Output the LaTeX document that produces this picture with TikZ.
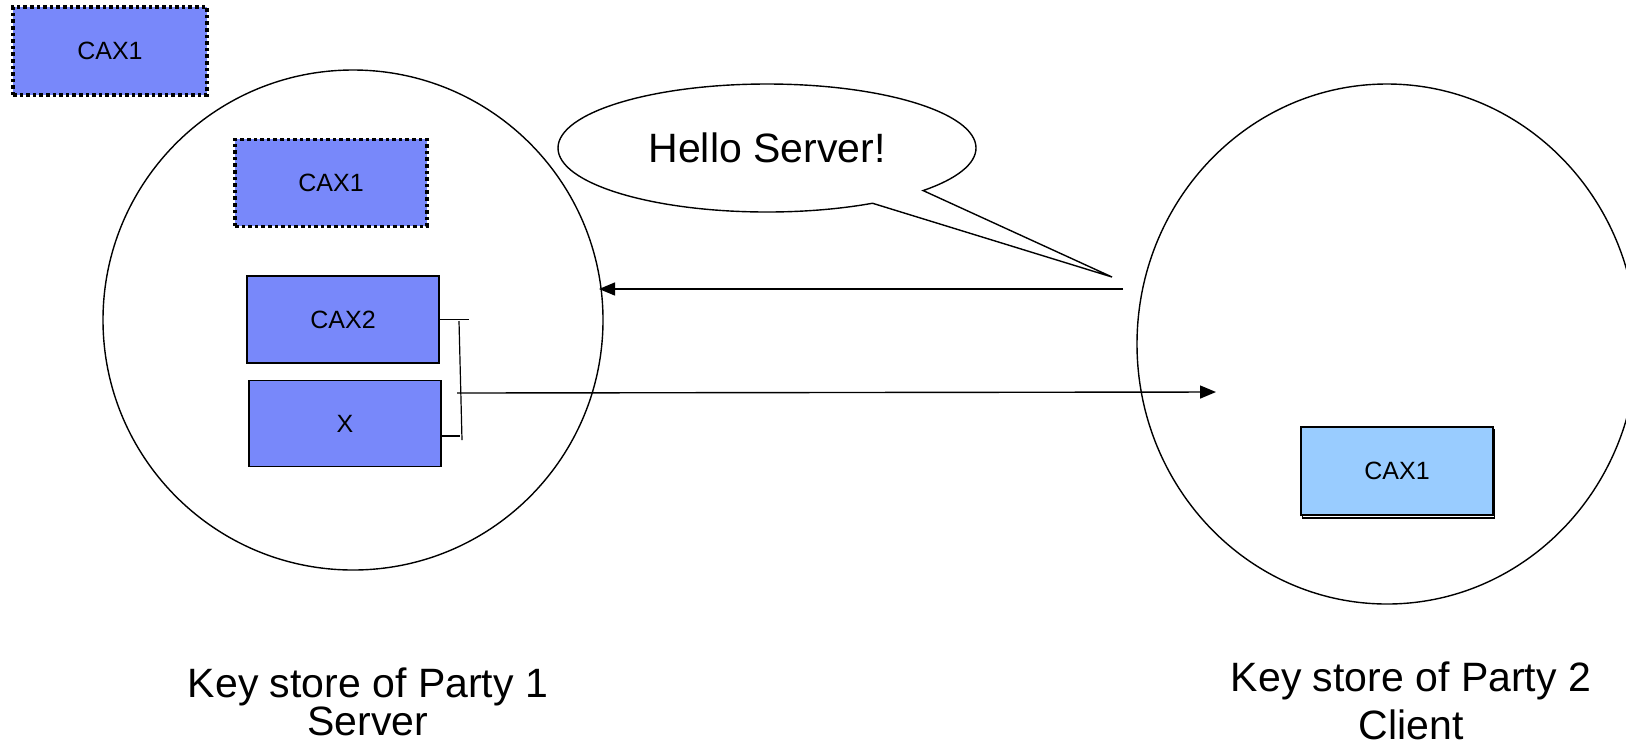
\documentclass[tikz,border=0pt]{standalone}
\usepackage{fontspec}
\setmainfont{Liberation Sans}
\usetikzlibrary{arrows.meta,shapes,shadows,positioning}
\definecolor{keyblue}{RGB}{120,136,250}
\definecolor{keylightblue}{RGB}{153,204,255}

\begin{document}
\begin{tikzpicture}[x=0.5pt,y=-0.5pt,>={Triangle[length=8pt,width=6.5pt]},line width=0.7pt]
        \tikzstyle{store}=[circle,draw,minimum size=250pt,inner sep=0pt]
        \tikzstyle{key}=[rectangle,draw,fill=keyblue,minimum width=96pt,minimum height=43.5pt,font=\fontsize{12.5}{15}\selectfont]
        \tikzstyle{keydotted}=[key,line width=1.9pt,dash pattern=on 1.8pt off 1.5pt]
        \tikzstyle{caption}=[align=center,anchor=base,font=\fontsize{20.5}{19}\selectfont]
        \useasboundingbox (0,0) rectangle (1626,746);
        % key stores
        \node[store](p1) at (353,320){};
        \node[store,ellipse,minimum width=250pt,minimum height=260pt](p2) at (1387,344){};
        \node[caption](lbl1) at (368,735){Key store of Party 1\\Server};
        \node[caption,font=\fontsize{20.5}{24}\selectfont](lbl2) at (1411,739){Key store of Party 2\\Client};
        % keys
        \node[keydotted,minimum width=97pt,minimum height=44pt](cax1out) at (110,51){CAX1};
        \node[key](cax2) at (343,319.5){CAX2};
        \node[keydotted,above=23.5pt of cax2,xshift=-6pt](cax1in){CAX1};
        \node[key,below=8pt of cax2,xshift=1pt,minimum height=43pt](xkey){X};
        \node[key,fill=keylightblue,minimum height=44pt,
            general shadow={draw=black,fill=white,shadow xshift=0.6pt,shadow yshift=-1.5pt}](cax1r) at (1397,471){CAX1};
        % chain bracket
        \coordinate (brtop) at (469,319.5);
        \coordinate (brup) at (459,321);
        \coordinate (brdown) at (462,440);
        \coordinate (brlow) at (460,436);
        \draw[line width=0.6pt] (cax2.east) -- (brtop);
        \draw[line width=0.6pt] (brup) -- (brdown);
        \draw[line width=0.6pt] (xkey.east |- brlow) -- (brlow);
        % messages
        \coordinate (tail) at (1112,277);
        \node[ellipse callout,draw,fill=white,minimum width=209pt,minimum height=64pt,
            callout absolute pointer={(tail)},callout pointer arc=18,
            font=\fontsize{20.5}{24}\selectfont](hello) at (767,148){Hello Server!};
        \coordinate (hellofrom) at (1123,289);
        \coordinate (helloto) at (599,289);
        \coordinate (sendfrom) at (457,393);
        \coordinate (sendto) at (1216,392);
        \draw[->] (hellofrom) -- (helloto);
        \draw[->] (sendfrom) -- (sendto);
\end{tikzpicture}
\end{document}
